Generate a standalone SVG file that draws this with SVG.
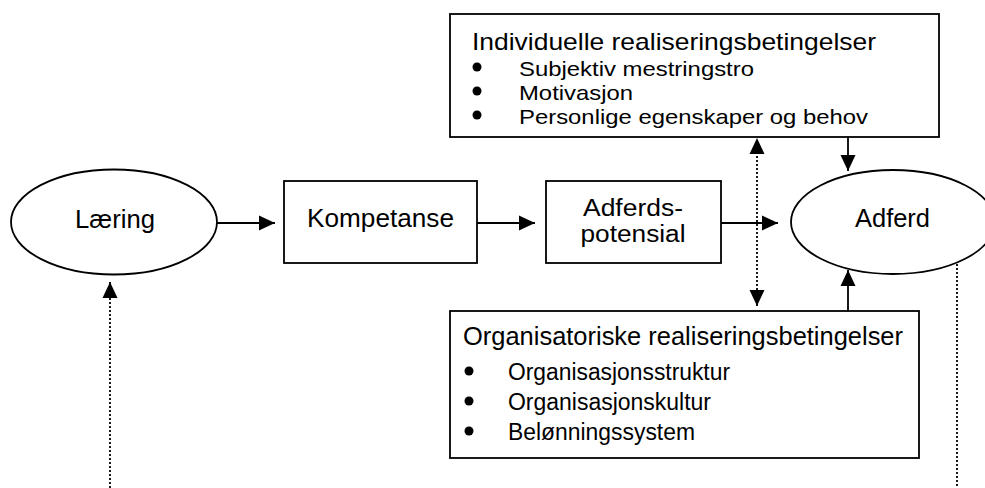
<svg xmlns="http://www.w3.org/2000/svg" width="985" height="488" viewBox="0 0 985 488">
<style>
.shape{fill:#fff;stroke:#000;stroke-width:1.8}
.t{font-family:"Liberation Sans",Arial,sans-serif;fill:#000}
.ln{fill:none;stroke:#000;stroke-width:1.8}
.dot{fill:none;stroke:#000;stroke-width:1.8;stroke-dasharray:2 2}
.bul{fill:#000}
</style>
<defs>
<marker id="ah" markerUnits="userSpaceOnUse" markerWidth="16" markerHeight="16" refX="16" refY="7.5" orient="auto-start-reverse" viewBox="0 0 16 15">
<path d="M0,0 L16,7.5 L0,15 z" fill="#000"/>
</marker>
</defs>
<rect width="985" height="488" fill="#fff"/>
<g id="connectors">
<path class="ln" d="M217,223 H275" marker-end="url(#ah)"/>
<path class="ln" d="M477,223 H535" marker-end="url(#ah)"/>
<path class="ln" d="M721,223 H778" marker-end="url(#ah)"/>
<path class="ln" d="M848,137 V171" marker-end="url(#ah)"/>
<path class="ln" d="M848,311 V270" marker-end="url(#ah)"/>
<path class="dot" d="M757,306 V138" marker-start="url(#ah)" marker-end="url(#ah)"/>
<path class="dot" d="M110,488 V282" marker-end="url(#ah)"/>
<path class="dot" d="M957,264 V488"/>
</g>
<g id="laering">
<ellipse class="shape" cx="114" cy="222" rx="103" ry="52.5"/>
<text class="t" x="115" y="228" font-size="26" text-anchor="middle" textLength="80" lengthAdjust="spacingAndGlyphs">Læring</text>
</g>
<g id="kompetanse">
<rect class="shape" x="284" y="181" width="193" height="82"/>
<text class="t" x="380.5" y="227" font-size="26" text-anchor="middle" textLength="147" lengthAdjust="spacingAndGlyphs">Kompetanse</text>
</g>
<g id="adferdspotensial">
<rect class="shape" x="546" y="181" width="175" height="82"/>
<text class="t" x="633" y="216" font-size="23" text-anchor="middle" textLength="100" lengthAdjust="spacingAndGlyphs">Adferds-</text>
<text class="t" x="633" y="242" font-size="23" text-anchor="middle" textLength="105" lengthAdjust="spacingAndGlyphs">potensial</text>
</g>
<g id="adferd">
<ellipse class="shape" cx="893" cy="222" rx="102" ry="52"/>
<text class="t" x="892.5" y="227" font-size="26" text-anchor="middle" textLength="75" lengthAdjust="spacingAndGlyphs">Adferd</text>
</g>
<g id="individuelle">
<rect class="shape" x="450" y="14" width="489" height="123"/>
<text class="t" x="472" y="50" font-size="24" textLength="404" lengthAdjust="spacingAndGlyphs">Individuelle realiseringsbetingelser</text>
<circle class="bul" cx="477" cy="67" r="4.5"/>
<circle class="bul" cx="477" cy="91" r="4.5"/>
<circle class="bul" cx="477" cy="115" r="4.5"/>
<text class="t" x="519" y="76" font-size="21" textLength="235" lengthAdjust="spacingAndGlyphs">Subjektiv mestringstro</text>
<text class="t" x="519" y="100" font-size="21" textLength="114" lengthAdjust="spacingAndGlyphs">Motivasjon</text>
<text class="t" x="519" y="124" font-size="21" textLength="349" lengthAdjust="spacingAndGlyphs">Personlige egenskaper og behov</text>
</g>
<g id="organisatoriske">
<rect class="shape" x="450" y="311" width="469" height="147"/>
<text class="t" x="463" y="345" font-size="25.5" textLength="440" lengthAdjust="spacingAndGlyphs">Organisatoriske realiseringsbetingelser</text>
<circle class="bul" cx="469" cy="371" r="4.5"/>
<circle class="bul" cx="469" cy="401" r="4.5"/>
<circle class="bul" cx="469" cy="431" r="4.5"/>
<text class="t" x="508" y="380" font-size="23" textLength="222" lengthAdjust="spacingAndGlyphs">Organisasjonsstruktur</text>
<text class="t" x="508" y="410" font-size="23" textLength="203" lengthAdjust="spacingAndGlyphs">Organisasjonskultur</text>
<text class="t" x="508" y="440" font-size="23" textLength="187" lengthAdjust="spacingAndGlyphs">Belønningssystem</text>
</g>
</svg>
